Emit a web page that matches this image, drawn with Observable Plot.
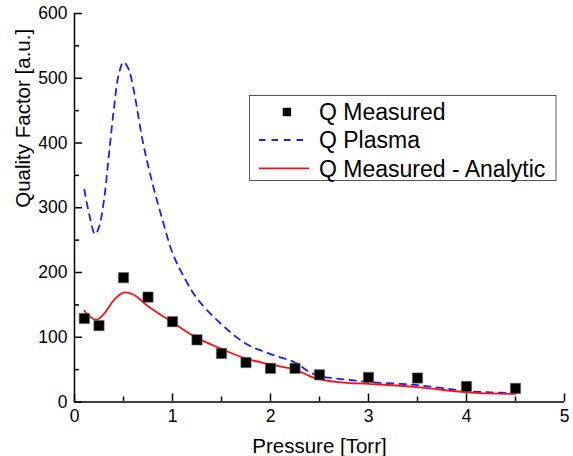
<!DOCTYPE html>
<html>
<head>
<meta charset="utf-8">
<script src="https://cdn.jsdelivr.net/npm/d3@7"></script>
<script src="https://cdn.jsdelivr.net/npm/@observablehq/plot@0.6"></script>
<style>
  html, body { margin: 0; padding: 0; background: #fff; }
  #chart { width: 573px; height: 456px; overflow: hidden; }
</style>
</head>
<body>
<div id="chart"></div>
<script>
// Measured quality factor (squares)
const measuredX = [0.1, 0.25, 0.5, 0.75, 1.0, 1.25, 1.5, 1.75, 2.0, 2.25, 2.5, 3.0, 3.5, 4.0, 4.5];
const measuredY = [129, 118, 192, 162, 124, 96, 75, 61, 52, 52, 42, 38, 37, 24, 21];

// Q Plasma (blue dashed)
const plasmaX = [0.10, 0.15, 0.21, 0.25, 0.30, 0.35, 0.40, 0.45, 0.50, 0.55, 0.60, 0.70, 0.80, 0.90, 1.00, 1.10, 1.25, 1.50, 1.75, 2.00, 2.25, 2.40, 2.50, 2.75, 3.00, 3.50, 4.00, 4.25, 4.50];
const plasmaY = [328, 290, 259, 270, 311, 380, 450, 505, 525, 515, 485, 400, 335, 280, 230, 198, 160, 120, 90, 74, 61, 46, 40, 35, 31, 26, 17, 15, 13.5];

// Q Measured - Analytic (red solid)
const analyticX = [0.10, 0.15, 0.22, 0.30, 0.40, 0.50, 0.60, 0.75, 1.00, 1.25, 1.50, 1.75, 2.00, 2.25, 2.40, 2.50, 2.75, 3.00, 3.50, 4.00, 4.50];
const analyticY = [141, 133, 127, 136, 157, 169, 166, 148, 123, 99, 82, 67, 58, 50, 40, 35, 30, 28, 23, 15, 12.5];

const xMajor = [0, 1, 2, 3, 4, 5];
const xMinor = [0.5, 1.5, 2.5, 3.5, 4.5];
const yMajor = [0, 100, 200, 300, 400, 500, 600];
const yMinor = [50, 150, 250, 350, 450, 550];

const xTitle = "Pressure [Torr]";
const yTitle = "Quality Factor [a.u.]";
const legendLabels = ["Q Measured", "Q Plasma", "Q Measured - Analytic"];

const FONT = "'Liberation Sans', Arial, sans-serif";
const BLUE = "#1c1cff";
const RED = "#ff1010";

const measured = measuredX.map((x, i) => ({x, y: measuredY[i]}));
const plasma = plasmaX.map((x, i) => ({x, y: plasmaY[i]}));
const analytic = analyticX.map((x, i) => ({x, y: analyticY[i]}));

const plot = Plot.plot({
  width: 573,
  height: 456,
  marginLeft: 74,
  marginRight: 9,
  marginTop: 13,
  marginBottom: 54.5,
  style: {fontFamily: FONT, fontSize: "17.5px", color: "#000", background: "#fff"},
  x: {domain: [0, 5]},
  y: {domain: [0, 600]},
  marks: [
    Plot.line(plasma, {x: "x", y: "y", stroke: BLUE, strokeWidth: 1.8, strokeDasharray: "6.5,6", curve: "catmull-rom"}),
    Plot.line(analytic, {x: "x", y: "y", stroke: RED, strokeWidth: 1.8, curve: "catmull-rom"}),
    Plot.dot(measured, {x: "x", y: "y", symbol: "square", r: 5.8, fill: "#000", stroke: "#666", strokeWidth: 0.6}),
    Plot.axisX({ticks: xMajor, tickSize: -8, tickPadding: 16, tickFormat: d3.format("d"), strokeWidth: 1.5, label: null, fontSize: 17.5}),
    Plot.axisX({ticks: xMinor, tickSize: -5, tickFormat: () => "", strokeWidth: 1.5, label: null}),
    Plot.axisY({ticks: yMajor, tickSize: -8, tickPadding: 15, tickFormat: d3.format("d"), strokeWidth: 1.5, label: null, fontSize: 17.5}),
    Plot.axisY({ticks: yMinor, tickSize: -5, tickFormat: () => "", strokeWidth: 1.5, label: null}),
    Plot.ruleX([0], {stroke: "#000", strokeWidth: 1.5}),
    Plot.ruleY([0], {stroke: "#000", strokeWidth: 1.5}),
    Plot.text([yTitle], {frameAnchor: "left", rotate: -90, dx: -51, text: d => d, fontSize: 20.5, fill: "#000"}),
    Plot.text([xTitle], {frameAnchor: "bottom", lineAnchor: "bottom", dy: 50.5, text: d => d, fontSize: 20.5, fill: "#000"})
  ]
});

document.getElementById("chart").appendChild(plot);

// Legend box drawn inside the SVG
const svg = d3.select(plot);
const lg = svg.append("g").attr("font-family", FONT).style("font-size", "23px").attr("text-anchor", "start");
lg.append("rect").attr("x", 249.5).attr("y", 95.5).attr("width", 306.5).attr("height", 85)
  .attr("fill", "#fff").attr("stroke", "#555").attr("stroke-width", 1);
const baselines = [120, 148.3, 176.7];
const symY = [112, 140, 168.3];
lg.append("rect").attr("x", 282.7).attr("y", symY[0] - 4.2).attr("width", 8.4).attr("height", 8.4).attr("fill", "#000");
lg.append("line").attr("x1", 259).attr("x2", 309).attr("y1", symY[1]).attr("y2", symY[1])
  .attr("stroke", BLUE).attr("stroke-width", 1.8).attr("stroke-dasharray", "6.5,6");
lg.append("line").attr("x1", 259).attr("x2", 309).attr("y1", symY[2]).attr("y2", symY[2])
  .attr("stroke", RED).attr("stroke-width", 1.8);
legendLabels.forEach((t, i) => {
  lg.append("text").attr("x", 319).attr("y", baselines[i]).attr("fill", "#000").text(t);
});
</script>
</body>
</html>
